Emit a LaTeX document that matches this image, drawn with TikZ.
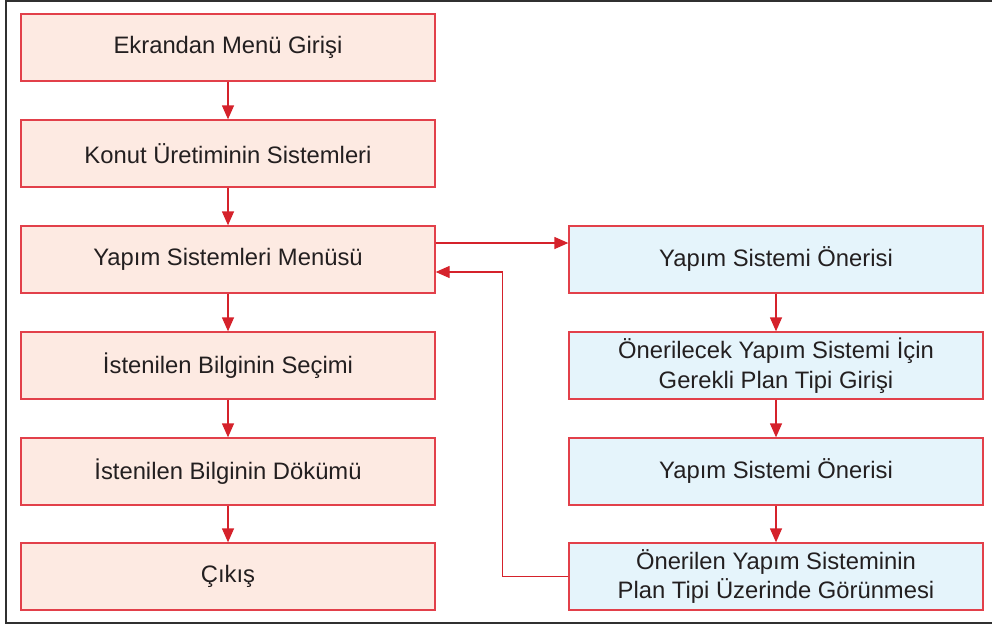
\documentclass[tikz,border=0pt]{standalone}
\usepackage{fontspec}
\setmainfont{Liberation Sans}
\usetikzlibrary{arrows.meta}
\definecolor{boxred}{HTML}{E2404A}
\definecolor{arrred}{HTML}{D5222B}
\definecolor{pinkfill}{HTML}{FDEAE2}
\definecolor{bluefill}{HTML}{E5F4FB}
\definecolor{framegray}{HTML}{303030}
\definecolor{txt}{HTML}{231F20}
\tikzset{
  stepbox/.style={draw=boxred, line width=1.3pt, minimum width=414pt, minimum height=67pt,
    inner sep=0pt, align=center, font=\fontsize{23.8pt}{29.5pt}\selectfont, text=txt},
  leftbox/.style={stepbox, fill=pinkfill},
  rightbox/.style={stepbox, fill=bluefill},
  arr/.style={draw=arrred, line width=1.3pt, -{Triangle[length=14pt,width=12pt]}}
}
\begin{document}
\begin{tikzpicture}[x=1pt,y=-1pt]
\useasboundingbox (0,0) rectangle (992,626);
\begin{scope}
\clip (0,0) rectangle (992,626);
\draw[framegray, line width=2.2pt] (6,1.2) rectangle (1030,623);
\end{scope}
\node[leftbox] (a1) at (228,47.5) {Ekrandan Menü Girişi};
\node[leftbox] (a2) at (228,153.5) {Konut Üretiminin Sistemleri};
\node[leftbox] (a3) at (228,259.5) {Yapım Sistemleri Menüsü};
\node[leftbox] (a4) at (228,365.5) {İstenilen Bilginin Seçimi};
\node[leftbox] (a5) at (228,471.5) {İstenilen Bilginin Dökümü};
\node[leftbox] (a6) at (228,576.5) {Çıkış};
\node[rightbox] (b1) at (776,259.5) {Yapım Sistemi Önerisi};
\node[rightbox] (b2) at (776,365.5) {Önerilecek Yapım Sistemi İçin\\Gerekli Plan Tipi Girişi};
\node[rightbox] (b3) at (776,471.5) {Yapım Sistemi Önerisi};
\node[rightbox] (b4) at (776,576.5) {Önerilen Yapım Sisteminin\\Plan Tipi Üzerinde Görünmesi};
\draw[arr] (a1) -- (a2);
\draw[arr] (a2) -- (a3);
\draw[arr] (a3) -- (a4);
\draw[arr] (a4) -- (a5);
\draw[arr] (a5) -- (a6);
\draw[arr] (b1) -- (b2);
\draw[arr] (b2) -- (b3);
\draw[arr] (b3) -- (b4);
\draw[arr] ([yshift=16.5pt]a3.east) -- ([yshift=16.5pt]b1.west);
\draw[arr] (b4.west) -- ++(-66,0) |- ([yshift=-12.5pt]a3.east);
\end{tikzpicture}
\end{document}
